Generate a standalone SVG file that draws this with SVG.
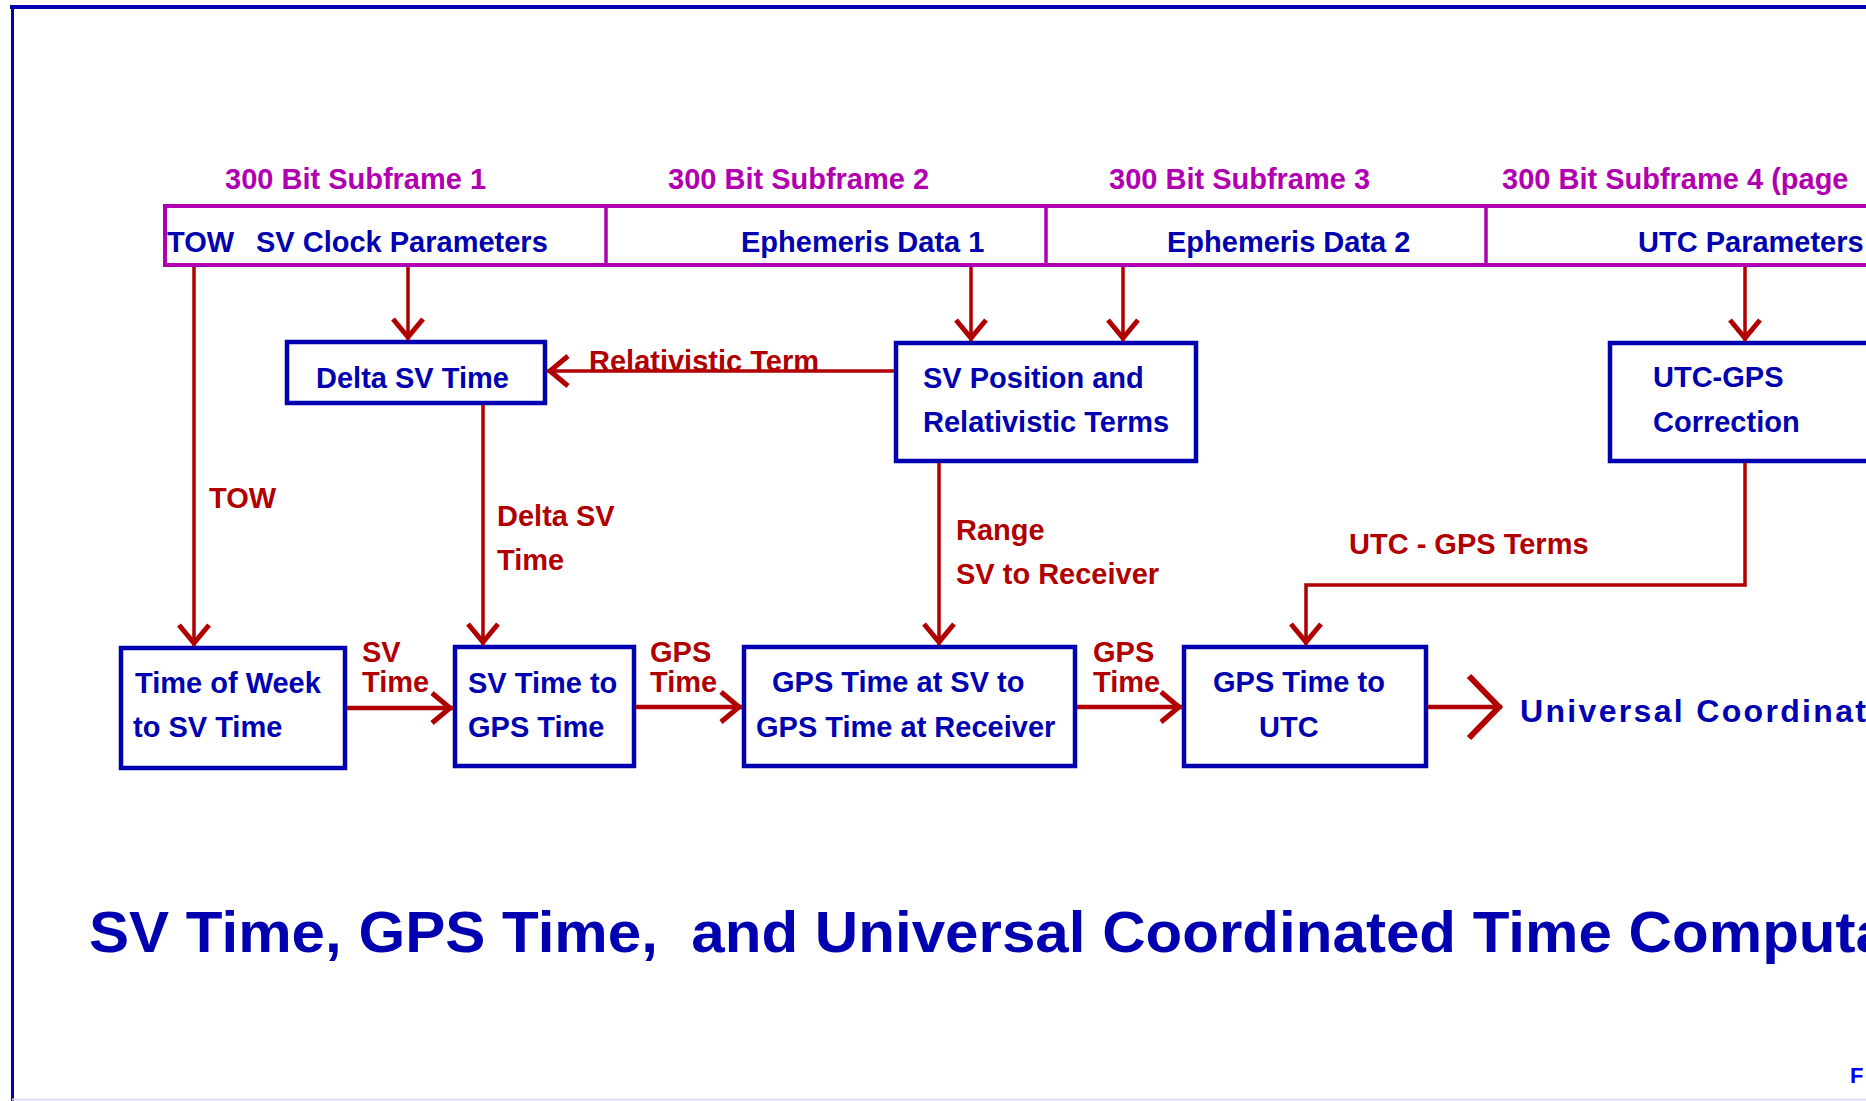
<svg xmlns="http://www.w3.org/2000/svg" width="1866" height="1101" viewBox="0 0 1866 1101">
<style>
text{font-family:"Liberation Sans",Arial,sans-serif;font-weight:bold;font-size:29px}
.mag{fill:#b000b0}
.blu{fill:#0000b0}
.red{fill:#b00000}
.box{fill:#fff;stroke:#0000b0;stroke-width:4.5}
.bar{fill:none;stroke:#b000b0;stroke-width:4}
.div{stroke:#b000b0;stroke-width:3.5}
.c{fill:none;stroke:#b00000;stroke-width:3.5}
.ch{fill:none;stroke:#b00000;stroke-width:4.5}
</style>
<defs>
<marker id="ah" markerUnits="userSpaceOnUse" markerWidth="40" markerHeight="40" viewBox="-30 -20 40 40" refX="0" refY="0" orient="auto" overflow="visible">
<path d="M-21,-15 L-3,0 L-21,15" fill="none" stroke="#b00000" stroke-width="5"/>
</marker>
<marker id="big" markerUnits="userSpaceOnUse" markerWidth="60" markerHeight="80" viewBox="-40 -40 60 80" refX="0" refY="0" orient="auto" overflow="visible">
<path d="M-33,-31 L-3,0 L-33,31" fill="none" stroke="#b00000" stroke-width="6"/>
</marker>
</defs>
<rect width="1866" height="1101" fill="#fff"/>
<g id="frame">
<line x1="10" y1="7" x2="1866" y2="7" stroke="#0000b0" stroke-width="4"/>
<line x1="12.5" y1="5" x2="12.5" y2="1101" stroke="#0000b0" stroke-width="3"/>
<line x1="12" y1="1099.5" x2="1866" y2="1099.5" stroke="#e0e0f6" stroke-width="2"/>
</g>
<g id="subframe-labels">
<text class="mag" x="225" y="189">300 Bit Subframe 1</text>
<text class="mag" x="668" y="189">300 Bit Subframe 2</text>
<text class="mag" x="1109" y="189">300 Bit Subframe 3</text>
<text class="mag" x="1502" y="189">300 Bit Subframe 4 (page</text>
</g>
<g id="subframe-bar">
<rect class="bar" x="165" y="206" width="1720" height="59"/>
<line class="div" x1="606" y1="206" x2="606" y2="265"/>
<line class="div" x1="1046" y1="206" x2="1046" y2="265"/>
<line class="div" x1="1486" y1="206" x2="1486" y2="265"/>
<text class="blu" x="167" y="252">TOW <tspan x="256">SV Clock Parameters</tspan></text>
<text class="blu" x="741" y="252">Ephemeris Data 1</text>
<text class="blu" x="1167" y="252">Ephemeris Data 2</text>
<text class="blu" x="1638" y="252">UTC Parameters</text>
</g>
<g id="node-delta-sv-time">
<rect class="box" x="287" y="342" width="258" height="61"/>
<text class="blu" x="316" y="388">Delta SV Time</text>
</g>
<g id="node-sv-position">
<rect class="box" x="896" y="343" width="300" height="118"/>
<text class="blu" x="923" y="388">SV Position and</text>
<text class="blu" x="923" y="432">Relativistic Terms</text>
</g>
<g id="node-utc-gps">
<rect class="box" x="1610" y="343" width="300" height="118"/>
<text class="blu" x="1653" y="387">UTC-GPS</text>
<text class="blu" x="1653" y="432">Correction</text>
</g>
<g id="node-tow-to-sv">
<rect class="box" x="121" y="648" width="224" height="120"/>
<text class="blu" x="135" y="693">Time of Week</text>
<text class="blu" x="133" y="737">to SV Time</text>
</g>
<g id="node-sv-to-gps">
<rect class="box" x="455" y="647" width="179" height="119"/>
<text class="blu" x="468" y="693">SV Time to</text>
<text class="blu" x="468" y="737">GPS Time</text>
</g>
<g id="node-gps-sv-to-rx">
<rect class="box" x="744" y="647" width="331" height="119"/>
<text class="blu" x="772" y="692">GPS Time at SV to</text>
<text class="blu" x="756" y="737">GPS Time at Receiver</text>
</g>
<g id="node-gps-to-utc">
<rect class="box" x="1184" y="647" width="242" height="119"/>
<text class="blu" x="1213" y="692">GPS Time to</text>
<text class="blu" x="1259" y="737">UTC</text>
</g>
<g id="connectors">
<line class="c" x1="194" y1="267" x2="194" y2="646" marker-end="url(#ah)"/>
<line class="c" x1="408" y1="267" x2="408" y2="340" marker-end="url(#ah)"/>
<line class="c" x1="971" y1="267" x2="971" y2="341" marker-end="url(#ah)"/>
<line class="c" x1="1123" y1="267" x2="1123" y2="341" marker-end="url(#ah)"/>
<line class="c" x1="1745" y1="267" x2="1745" y2="341" marker-end="url(#ah)"/>
<line class="c" x1="894" y1="371" x2="547" y2="371" stroke-width="4" marker-end="url(#ah)"/>
<line class="c" x1="483" y1="405" x2="483" y2="645" marker-end="url(#ah)"/>
<line class="c" x1="939" y1="463" x2="939" y2="645" marker-end="url(#ah)"/>
<path class="c" d="M1745,463 V585 H1306 V645" stroke-width="4" marker-end="url(#ah)"/>
<line class="ch" x1="347" y1="708" x2="453" y2="708" marker-end="url(#ah)"/>
<line class="ch" x1="636" y1="707" x2="742" y2="707" marker-end="url(#ah)"/>
<line class="ch" x1="1077" y1="707" x2="1182" y2="707" marker-end="url(#ah)"/>
<line class="ch" x1="1428" y1="707" x2="1502" y2="707" marker-end="url(#big)"/>
</g>
<g id="connector-labels">
<text class="red" x="209" y="508">TOW</text>
<text class="red" x="497" y="526">Delta SV</text>
<text class="red" x="497" y="570">Time</text>
<text class="red" x="589" y="371">Relativistic Term</text>
<text class="red" x="956" y="540">Range</text>
<text class="red" x="956" y="584">SV to Receiver</text>
<text class="red" x="1349" y="554">UTC - GPS Terms</text>
<text class="red" x="362" y="662">SV</text>
<text class="red" x="362" y="692">Time</text>
<text class="red" x="650" y="662">GPS</text>
<text class="red" x="650" y="692">Time</text>
<text class="red" x="1093" y="662">GPS</text>
<text class="red" x="1093" y="692">Time</text>
</g>
<g id="output">
<text class="blu" x="1520" y="722" style="font-size:32px" textLength="346" lengthAdjust="spacing">Universal Coordinat</text>
</g>
<g id="title">
<text class="blu" x="89" y="952" xml:space="preserve" style="font-size:58px" textLength="1800" lengthAdjust="spacingAndGlyphs">SV Time, GPS Time,  and Universal Coordinated Time Computa</text>
</g>
<text x="1850" y="1083" style="font-size:22px;fill:#0000ff">F</text>
</svg>
